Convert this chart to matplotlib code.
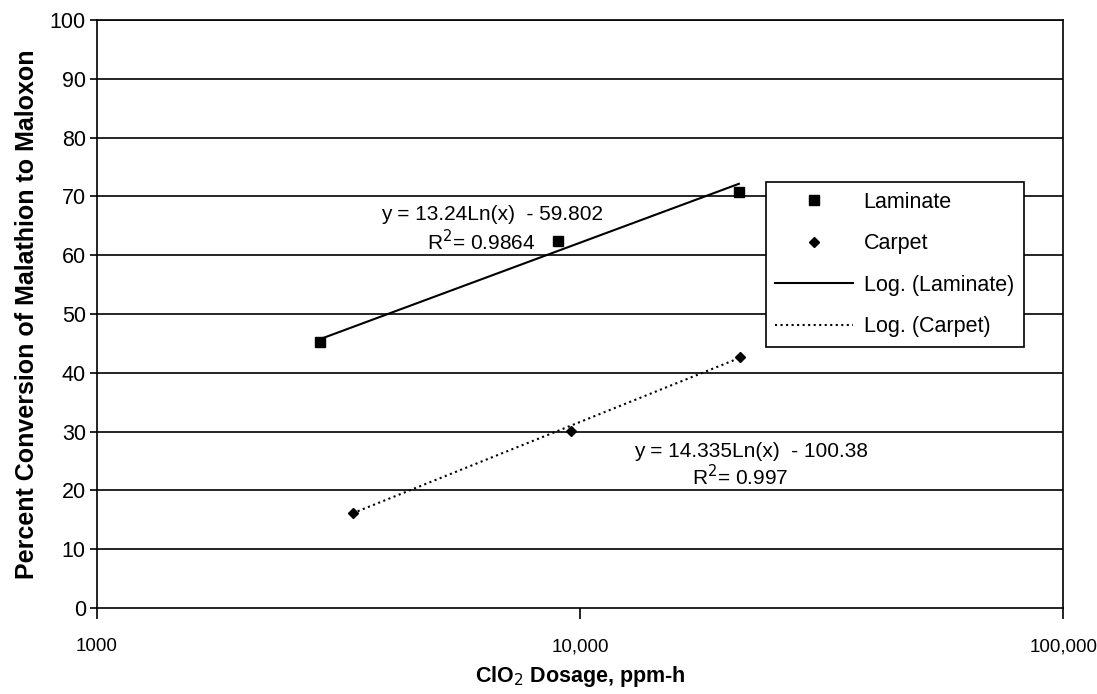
import numpy as np
import matplotlib.pyplot as plt
from matplotlib.ticker import FixedLocator, NullLocator

plt.rcParams['font.family'] = ['Liberation Sans', 'DejaVu Sans']

# data
lam_x = [2900, 9000, 21300]
lam_y = [45.3, 62.5, 70.8]
carp_x = [3380, 9550, 21400]
carp_y = [16.2, 30.1, 42.7]

# displayed log trend coefficients: y = a*ln(x) + b
lam_fit = (13.24, -59.802)
carp_fit = (14.335, -100.38)

x_ticks = [1000, 10000, 100000]
x_tick_labels = ["1000", "10,000", "100,000"]
y_ticks = list(range(0, 101, 10))

fig = plt.figure(figsize=(10.97, 6.94), dpi=100)
ax = fig.add_axes([0.0884, 0.124, 0.881, 0.847])

ax.set_xscale('log')
ax.set_xlim(1000, 100000)
ax.set_ylim(0, 100)

for yv in y_ticks[1:]:
    ax.axhline(yv, color='black', lw=1.2, zorder=1)

xx = np.linspace(min(lam_x), max(lam_x), 50)
ax.plot(xx, lam_fit[0] * np.log(xx) + lam_fit[1], '-', color='black', lw=1.5,
        label='Log. (Laminate)', zorder=2)
xx2 = np.linspace(min(carp_x), max(carp_x), 50)
ax.plot(xx2, carp_fit[0] * np.log(xx2) + carp_fit[1], ':', color='black', lw=1.5,
        label='Log. (Carpet)', zorder=2)

ax.plot(lam_x, lam_y, 's', color='black', ms=7, ls='none', label='Laminate', zorder=3)
ax.plot(carp_x, carp_y, 'D', color='black', ms=5, ls='none', label='Carpet', zorder=3)

ax.text(6580, 67.0, "y = 13.24Ln(x)  - 59.802", fontsize=15, ha='center', va='center')
ax.text(6250, 62.4, "R$^2$= 0.9864", fontsize=15, ha='center', va='center')
ax.text(22600, 26.6, "y = 14.335Ln(x)  - 100.38", fontsize=15, ha='center', va='center')
ax.text(21400, 22.3, "R$^2$= 0.997", fontsize=15, ha='center', va='center')

ax.xaxis.set_major_locator(FixedLocator(x_ticks))
ax.xaxis.set_minor_locator(NullLocator())
ax.set_xticklabels(x_tick_labels)
ax.set_yticks(y_ticks)
ax.tick_params(axis='both', direction='out', width=1.2)
ax.tick_params(axis='x', length=8, pad=14, labelsize=13.5)
ax.tick_params(axis='y', length=5, pad=3, labelsize=15.5)

for sp in ax.spines.values():
    sp.set_linewidth(1.2)

ax.set_xlabel("ClO$_2$ Dosage, ppm-h", fontsize=15.5, fontweight='bold', labelpad=6)
ax.set_ylabel("Percent Conversion of Malathion to Maloxon", fontsize=18,
              fontweight='bold', labelpad=8)

h, l = ax.get_legend_handles_labels()
order = [2, 3, 0, 1]
leg = ax.legend([h[i] for i in order], [l[i] for i in order],
                loc='upper left', bbox_to_anchor=(0.692, 0.7245),
                fontsize=15.5, frameon=True, fancybox=False, framealpha=1,
                edgecolor='black', borderpad=0.45, labelspacing=0.95,
                handlelength=3.6, handletextpad=0.5, borderaxespad=0)
leg.get_frame().set_linewidth(1.2)

fig.savefig("out.png", dpi=100)
